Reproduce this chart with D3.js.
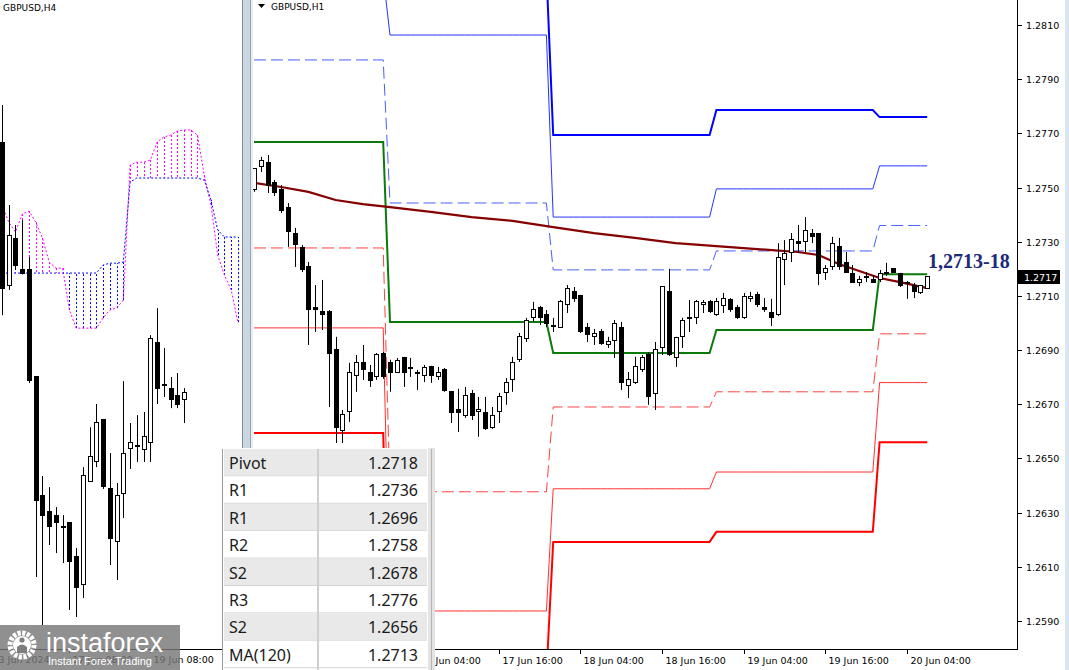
<!DOCTYPE html>
<html>
<head>
<meta charset="utf-8">
<script src="https://cdnjs.cloudflare.com/ajax/libs/d3/7.8.5/d3.min.js"></script>
<style>
  body { margin: 0; background: #fff; }
  svg { display: block; font-family: "DejaVu Sans", sans-serif; }
</style>
</head>
<body>
<svg id="chart" width="1069" height="670"></svg>
<script>
// ---------- H1 candles (GBPUSD,H1), bar 0 = 14 Jun 04:00 ----------
var h1Open  = [1.27491,1.27579,1.27591,1.27517,1.27491,1.27428,1.27329,1.27277,1.27207,1.27059,
               1.27041,1.27041,1.26901,1.26605,1.26672,1.26808,1.26856,1.26819,1.26801,1.26889,
               1.26853,1.26819,1.26871,1.26834,1.26819,1.26808,1.26838,1.26801,1.26830,1.26746,
               1.26679,1.26657,1.26738,1.26672,1.26668,1.26616,1.26672,1.26742,1.26790,1.26867,
               1.26941,1.27019,1.27059,1.27030,1.26989,1.26985,1.27067,1.27115,1.27100,1.26982,
               1.26949,1.26967,1.26919,1.26937,1.26985,1.26768,1.26779,1.26830,1.26882,1.26738,
               1.26908,1.27118,1.26871,1.26949,1.27019,1.27019,1.27070,1.27081,1.27030,1.27063,
               1.27085,1.27059,1.27019,1.27089,1.27107,1.27059,1.27037,1.27030,1.27233,1.27262,
               1.27299,1.27299,1.27332,1.27329,1.27188,1.27207,1.27281,1.27225,1.27181,1.27151,
               1.27170,1.27159,1.27159,1.27185,1.27200,1.27181,1.27151,1.27140,1.27111,1.27129];
var h1High  = [1.27572,1.27613,1.27620,1.27528,1.27509,1.27443,1.27351,1.27288,1.27225,1.27140,
               1.27159,1.27048,1.26949,1.26679,1.26853,1.26882,1.26919,1.26845,1.26889,1.26893,
               1.26864,1.26871,1.26875,1.26871,1.26827,1.26845,1.26842,1.26838,1.26834,1.26749,
               1.26757,1.26764,1.26753,1.26727,1.26727,1.26690,1.26742,1.26797,1.26875,1.26963,
               1.27019,1.27078,1.27063,1.27048,1.27019,1.27085,1.27140,1.27133,1.27104,1.27000,
               1.26978,1.26978,1.26949,1.27011,1.27004,1.26819,1.26875,1.26882,1.26893,1.26930,
               1.27136,1.27200,1.26949,1.27019,1.27085,1.27085,1.27085,1.27085,1.27092,1.27111,
               1.27092,1.27067,1.27111,1.27115,1.27115,1.27092,1.27089,1.27295,1.27306,1.27332,
               1.27362,1.27391,1.27347,1.27332,1.27214,1.27318,1.27314,1.27262,1.27214,1.27174,
               1.27188,1.27177,1.27196,1.27222,1.27203,1.27185,1.27155,1.27148,1.27140,1.27170];
var h1Low   = [1.27484,1.27557,1.27480,1.27469,1.27406,1.27281,1.27207,1.27188,1.26919,1.26967,
               1.26974,1.26690,1.26557,1.26557,1.26635,1.26746,1.26790,1.26764,1.26790,1.26794,
               1.26746,1.26816,1.26764,1.26801,1.26753,1.26782,1.26779,1.26790,1.26746,1.26631,
               1.26598,1.26650,1.26642,1.26580,1.26605,1.26609,1.26631,1.26698,1.26746,1.26856,
               1.26930,1.27004,1.26993,1.26985,1.26967,1.26982,1.27037,1.27078,1.26963,1.26930,
               1.26919,1.26919,1.26908,1.26871,1.26753,1.26723,1.26775,1.26819,1.26698,1.26679,
               1.26882,1.26878,1.26838,1.26908,1.26967,1.26996,1.27037,1.27037,1.27026,1.27037,
               1.27041,1.27015,1.27015,1.27078,1.27059,1.27041,1.26989,1.27026,1.27140,1.27225,
               1.27258,1.27262,1.27295,1.27140,1.27159,1.27196,1.27196,1.27185,1.27148,1.27136,
               1.27151,1.27148,1.27151,1.27174,1.27185,1.27133,1.27089,1.27092,1.27107,1.27126];
var h1Close = [1.27572,1.27598,1.27509,1.27480,1.27417,1.27336,1.27288,1.27196,1.27048,1.27048,
               1.27030,1.26889,1.26616,1.26661,1.26819,1.26853,1.26830,1.26786,1.26882,1.26801,
               1.26816,1.26860,1.26816,1.26832,1.26817,1.26834,1.26808,1.26816,1.26749,1.26668,
               1.26668,1.26731,1.26657,1.26679,1.26609,1.26657,1.26727,1.26779,1.26856,1.26949,
               1.27008,1.27048,1.27019,1.27000,1.26990,1.27078,1.27129,1.27092,1.26967,1.26956,
               1.26960,1.26926,1.26930,1.27000,1.26779,1.26790,1.26838,1.26871,1.26727,1.26901,
               1.27133,1.26882,1.26945,1.27008,1.27017,1.27078,1.27074,1.27041,1.27081,1.27089,
               1.27048,1.27019,1.27096,1.27096,1.27067,1.27048,1.27019,1.27240,1.27258,1.27310,
               1.27292,1.27340,1.27321,1.27181,1.27203,1.27292,1.27207,1.27188,1.27151,1.27159,
               1.27172,1.27151,1.27181,1.27188,1.27188,1.27140,1.27149,1.27115,1.27137,1.27170];

// MA(120) read at some bars
var maBar = [0, 4, 8, 12, 16, 20, 26, 32, 38, 44, 50, 56, 62, 68, 74, 80, 83, 86, 89, 92, 95, 99];
var maVal = [1.27517,1.27502,1.27484,1.27454,1.27439,1.27428,1.27410,1.27391,1.27377,1.27354,1.27332,
             1.27314,1.27295,1.27284,1.27273,1.27262,1.27251,1.27218,1.27192,1.27166,1.27151,1.27129];

// daily pivot levels, one value per day, day starts at these bars
var dayStart = [0, 20, 44, 68, 92];
var lvR3 = [1.2845, 1.2830, 1.27694, 1.27786, 1.2776];
var lvR2 = [1.2828, 1.28063, 1.27391, 1.27495, 1.2758];
var lvR1 = [1.27971, 1.27443, 1.27196, 1.27266, 1.2736];
var lvPP = [1.27668, 1.27004, 1.26889, 1.26974, 1.2718];
var lvS1 = [1.27277, 1.26377, 1.26690, 1.26746, 1.2696];
var lvS2 = [1.26982, 1.25937, 1.26388, 1.26450, 1.2678];
var lvS3 = [1.26594, 1.2570, 1.26192, 1.26229, 1.2656];

var priceTicks = [1.2590,1.2610,1.2630,1.2650,1.2670,1.2690,1.2710,1.2730,1.2750,1.2770,1.2790,1.2810];
var h1TickBar = [24, 36, 48, 60, 72, 84, 96];
var h1TickLab = ['17 Jun 04:00','17 Jun 16:00','18 Jun 04:00','18 Jun 16:00','19 Jun 04:00','19 Jun 16:00','20 Jun 04:00'];
var lastPrice = 1.2717;

// ---------- H4 candles + ichimoku cloud ----------
var h4Open  = [1.28378,1.27689,1.27917,1.27762,1.27762,1.27243,1.26670,1.26593,1.26573,1.26520,
               1.26535,1.26370,1.26239,1.26738,1.26835,1.27039,1.26704,1.26443,1.26680,1.26894,
               1.26913,1.26889,1.26923,1.27408,1.27209,1.27185,1.27151,1.27136];
var h4High  = [1.28562,1.28077,1.27980,1.28004,1.27825,1.27243,1.26763,1.26709,1.26612,1.26573,
               1.26535,1.26413,1.26806,1.27000,1.27112,1.27039,1.26874,1.26729,1.27223,1.27020,
               1.27058,1.27073,1.27446,1.27577,1.27383,1.27243,1.27262,1.27189];
var h4Low   = [1.27543,1.27665,1.27762,1.27740,1.27214,1.26273,1.26040,1.26428,1.26389,1.26341,
               1.26113,1.26079,1.26171,1.26734,1.26806,1.26700,1.26331,1.26258,1.26559,1.26797,
               1.26831,1.26831,1.26831,1.27112,1.27146,1.27092,1.27092,1.27020];
var h4Close = [1.27674,1.27931,1.27786,1.27747,1.27228,1.26646,1.26573,1.26520,1.26535,1.26518,
               1.26350,1.26224,1.26763,1.26855,1.27020,1.26714,1.26462,1.26670,1.26874,1.26923,
               1.26911,1.26952,1.27432,1.27185,1.27207,1.27136,1.27112,1.27170];
var spanA = [1.28077,1.27994,1.27946,1.28033,1.28048,1.27994,1.27917,1.27800,1.27771,1.27771,
             1.27568,1.27480,1.27480,1.27480,1.27480,1.27529,1.27568,1.27577,1.27616,1.28271,
             1.28285,1.28285,1.28295,1.28382,1.28407,1.28416,1.28436,1.28441,1.28441,1.28416,
             1.28222,1.28077,1.27834,1.27737,1.27665,1.27509];
var spanB = [1.27747,1.27747,1.27747,1.27747,1.27747,1.27747,1.27747,1.27747,1.27747,1.27747,
             1.27747,1.27747,1.27747,1.27747,1.27747,1.27786,1.27795,1.27795,1.27800,1.28188,
             1.28208,1.28208,1.28208,1.28208,1.28208,1.28208,1.28208,1.28208,1.28208,1.28208,
             1.28198,1.28101,1.27956,1.27922,1.27922,1.27922];
var h4TickBar = [-2, 10, 22];
var h4TickLab = ['13 Jun 2024', '17 Jun 08:00', '19 Jun 08:00'];

// ---------- table ----------
var tabNames  = ['Pivot','R1','R1','R2','S2','R3','S2','MA(120)'];
var tabValues = ['1.2718','1.2736','1.2696','1.2758','1.2678','1.2776','1.2656','1.2713'];

var svg = d3.select('#chart');
var defs = svg.append('defs');
defs.append('clipPath').attr('id','clip4').append('rect').attr('x',0).attr('y',0).attr('width',242).attr('height',649);
defs.append('clipPath').attr('id','clip4b').append('rect').attr('x',0).attr('y',649).attr('width',242).attr('height',21);
defs.append('clipPath').attr('id','clip1').append('rect').attr('x',253).attr('y',0).attr('width',764).attr('height',649);

svg.append('rect').attr('width',1069).attr('height',670).attr('fill','#fff');

var x1 = d3.scaleLinear().domain([0, 99]).range([254, 927.2]);
var y1 = d3.scaleLinear().domain([1.2590, 1.2810]).range([621, 25]);
var x4 = d3.scaleLinear().domain([0, 27]).range([2, 184]);
var y4 = d3.scaleLinear().domain([1.2590, 1.2860]).range([653.9, 97.2]);

function drawCandles(g, xs, ys, O, Hi, Lo, C) {
	var idx = d3.range(O.length);
	g.selectAll('.wick').data(idx).join('line')
		.attr('class','wick')
		.attr('x1', i => Math.round(xs(i)) + 0.5).attr('x2', i => Math.round(xs(i)) + 0.5)
		.attr('y1', i => ys(Hi[i])).attr('y2', i => ys(Lo[i]))
		.attr('stroke','#000').attr('stroke-width',1);
	g.selectAll('.body').data(idx).join('rect')
		.attr('class','body')
		.attr('x', i => Math.round(xs(i)) - 1.5)
		.attr('width', 4)
		.attr('y', i => ys(Math.max(O[i], C[i])))
		.attr('height', i => Math.max(1, Math.abs(ys(O[i]) - ys(C[i]))))
		.attr('fill', i => C[i] >= O[i] ? '#fff' : '#000')
		.attr('stroke','#000').attr('stroke-width',1)
		.attr('shape-rendering','crispEdges');
}

// ================= H4 panel =================
var g4 = svg.append('g').attr('clip-path','url(#clip4)');
var cloudIdx = d3.range(spanA.length);
g4.selectAll('.hatch').data(cloudIdx).join('line')
	.attr('class','hatch')
	.attr('x1', j => Math.round(x4(j)) + 0.5).attr('x2', j => Math.round(x4(j)) + 0.5)
	.attr('y1', j => y4(spanA[j])).attr('y2', j => y4(spanB[j]))
	.attr('stroke', j => spanA[j] > spanB[j] ? '#ff00ff' : '#0000ff')
	.attr('stroke-width',1).attr('stroke-dasharray','2,2');
var cloudLine = (arr) => d3.line().x(j => x4(j)).y(j => y4(arr[j]))(cloudIdx);
g4.append('path').attr('d', cloudLine(spanA)).attr('fill','none')
	.attr('stroke','#ff00ff').attr('stroke-width',1).attr('stroke-dasharray','2,2');
g4.append('path').attr('d', cloudLine(spanB)).attr('fill','none')
	.attr('stroke','#0000ff').attr('stroke-width',1).attr('stroke-dasharray','2,2');
drawCandles(g4.append('g'), x4, y4, h4Open, h4High, h4Low, h4Close);

svg.append('text').attr('x',3).attr('y',11).attr('font-size',9).attr('fill','#000').text('GBPUSD,H4');

// H4 time axis
svg.append('line').attr('x1',0).attr('x2',242).attr('y1',649.5).attr('y2',649.5).attr('stroke','#000');
var t4 = svg.append('g').attr('clip-path','url(#clip4b)');
h4TickBar.forEach(function(b, k) {
	var xx = Math.round(x4(b)) + 0.5;
	t4.append('line').attr('x1',xx).attr('x2',xx).attr('y1',650).attr('y2',653).attr('stroke','#000');
	t4.append('text').attr('x', xx + 3).attr('y', 663).attr('font-size',9.5).text(h4TickLab[k]);
});

// panel separator
svg.append('rect').attr('x',242).attr('y',0).attr('width',11).attr('height',670).attr('fill','#c9d6e4');
svg.append('line').attr('x1',242.5).attr('x2',242.5).attr('y1',0).attr('y2',670).attr('stroke','#8a8a8a');
svg.append('line').attr('x1',250.5).attr('x2',250.5).attr('y1',0).attr('y2',670).attr('stroke','#9aa4ae');
svg.append('rect').attr('x',251).attr('y',0).attr('width',2).attr('height',670).attr('fill','#e9eef3');

// ================= H1 panel =================
svg.append('rect').attr('x',253).attr('y',0).attr('width',816).attr('height',670).attr('fill','#fff');
var g1 = svg.append('g').attr('clip-path','url(#clip1)');
var bars = d3.range(h1Open.length);
function dayOf(i) { return d3.bisectRight(dayStart, i) - 1; }
function levelPath(lv) {
	return d3.line().x(i => x1(i)).y(i => y1(lv[dayOf(i)]))(bars);
}
var levels = [
	{ v: lvS3, c: '#ff0000', w: 2,   d: null },
	{ v: lvS2, c: '#ff3030', w: 1,   d: null },
	{ v: lvS1, c: '#ff4040', w: 1,   d: '12,5' },
	{ v: lvR3, c: '#0000ff', w: 2,   d: null },
	{ v: lvR2, c: '#2233ff', w: 1,   d: null },
	{ v: lvR1, c: '#4a5cff', w: 1,   d: '12,5' },
	{ v: lvPP, c: '#0a7a0a', w: 2,   d: null }
];
levels.forEach(function(l) {
	g1.append('path').attr('d', levelPath(l.v)).attr('fill','none')
		.attr('stroke', l.c).attr('stroke-width', l.w)
		.attr('stroke-dasharray', l.d);
});
g1.append('path')
	.attr('d', d3.line().x((b, k) => x1(b)).y((b, k) => y1(maVal[k]))(maBar))
	.attr('fill','none').attr('stroke','#850000').attr('stroke-width',2.2);
drawCandles(g1.append('g'), x1, y1, h1Open, h1High, h1Low, h1Close);

// header
svg.append('path').attr('d','M258,4 L265,4 L261.5,8 Z').attr('fill','#000');
svg.append('text').attr('x',271).attr('y',10).attr('font-size',9).text('GBPUSD,H1');

// price axis
svg.append('line').attr('x1',1017.5).attr('x2',1017.5).attr('y1',0).attr('y2',650).attr('stroke','#000');
priceTicks.forEach(function(p) {
	var yy = Math.round(y1(p)) + 0.5;
	svg.append('line').attr('x1',1018).attr('x2',1022).attr('y1',yy).attr('y2',yy).attr('stroke','#000');
	svg.append('text').attr('x',1026).attr('y',yy + 3.5).attr('font-size',9.5).text(p.toFixed(4));
});
var ly = Math.round(y1(lastPrice));
svg.append('rect').attr('x',1018).attr('y',ly - 7).attr('width',42).attr('height',14).attr('fill','#000');
svg.append('text').attr('x',1024).attr('y',ly + 3.5).attr('font-size',9.5).attr('fill','#fff').text(lastPrice.toFixed(4));

// time axis
svg.append('line').attr('x1',253).attr('x2',1017).attr('y1',649.5).attr('y2',649.5).attr('stroke','#000');
h1TickBar.forEach(function(b, k) {
	var xx = Math.round(x1(b)) + 0.5;
	svg.append('line').attr('x1',xx).attr('x2',xx).attr('y1',650).attr('y2',654).attr('stroke','#000');
	svg.append('text').attr('x', xx + 3).attr('y', 664).attr('font-size',9.5).text(h1TickLab[k]);
});
svg.append('rect').attr('x',1065).attr('y',0).attr('width',4).attr('height',670).attr('fill','#dbe5ef');

// annotation
svg.append('text').attr('x',928).attr('y',268)
	.style('font-family','"Liberation Serif", serif').style('font-weight','bold')
	.attr('font-size',20).attr('fill','#1c2a78').text('1,2713-18');

// ================= table =================
var rowH = 27.4, tx = 222, ty = 449, tw = 203;
var tab = svg.append('g').style('font-family','"Noto Sans", sans-serif');
tab.append('rect').attr('x',tx).attr('y',ty - 1).attr('width',tw + 10).attr('height',670 - ty + 1).attr('fill','#fff');
tabNames.forEach(function(n, k) {
	var ry = ty + k * rowH;
	tab.append('rect').attr('x',tx + 2).attr('y',ry).attr('width',tw).attr('height',rowH - 1)
		.attr('fill', k % 2 === 0 ? '#e9e9e9' : '#ffffff');
	tab.append('line').attr('x1',tx + 2).attr('x2',tx + 2 + tw).attr('y1',ry + rowH - 0.5).attr('y2',ry + rowH - 0.5)
		.attr('stroke','#d4d4d4');
	tab.append('text').attr('x',tx + 7).attr('y',ry + 20).attr('font-size',16).attr('fill','#1a1a1a').text(n);
	tab.append('text').attr('x',tx + 196).attr('y',ry + 20).attr('font-size',16).attr('fill','#1a1a1a')
		.attr('text-anchor','end').text(tabValues[k]);
});
tab.append('line').attr('x1',318).attr('x2',318).attr('y1',ty).attr('y2',670).attr('stroke','#cfcfcf').attr('stroke-width',2);
tab.append('line').attr('x1',tx + 0.5).attr('x2',tx + 0.5).attr('y1',ty).attr('y2',670).attr('stroke','#9a9a9a');
tab.append('rect').attr('x',tx + tw + 3).attr('y',ty - 1).attr('width',7).attr('height',670 - ty + 1).attr('fill','#e3e3e3');
tab.append('line').attr('x1',tx + tw + 6.5).attr('x2',tx + tw + 6.5).attr('y1',ty).attr('y2',670).attr('stroke','#b5b5b5');

// ================= logo (semi-transparent, axis labels show through) =================
var logo = svg.append('g');
logo.append('rect').attr('x',0).attr('y',625).attr('width',180).attr('height',45).attr('fill','#777').attr('opacity',0.82);
logo.append('circle').attr('cx',22).attr('cy',645).attr('r',12).attr('fill','none')
	.attr('stroke','#fff').attr('stroke-width',5).attr('stroke-dasharray','3.2,1.5');
logo.append('circle').attr('cx',22).attr('cy',645).attr('r',9).attr('fill','#fff');
logo.append('circle').attr('cx',22).attr('cy',640).attr('r',2.6).attr('fill','#7e7e7e');
logo.append('path').attr('d','M17,653 L17,647 Q22,642 27,647 L27,653 Z').attr('fill','#7e7e7e');
logo.append('text').attr('x',46).attr('y',652).attr('font-size',27).attr('fill','#fff')
	.style('font-family','"Liberation Sans", sans-serif').text('instaforex');
logo.append('text').attr('x',48).attr('y',665).attr('font-size',11).attr('fill','#fff')
	.style('font-family','"Liberation Sans", sans-serif').text('Instant Forex Trading');
</script>
</body>
</html>
